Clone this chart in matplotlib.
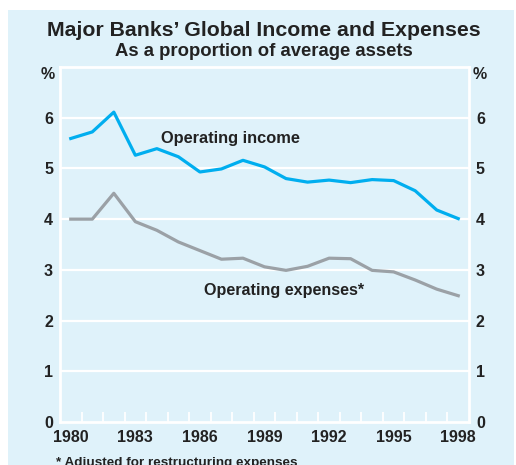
import matplotlib.pyplot as plt
import matplotlib.patches as patches
import numpy as np

plt.rcParams['font.family'] = ['Liberation Sans', 'DejaVu Sans']

years = np.arange(1980, 1999)
income = [5.59, 5.72, 6.11, 5.26, 5.39, 5.23, 4.93, 4.99, 5.16, 5.03,
          4.80, 4.73, 4.77, 4.72, 4.78, 4.76, 4.56, 4.18, 4.01]
expenses = [4.00, 4.00, 4.51, 3.95, 3.78, 3.55, 3.38, 3.21, 3.23, 3.06,
            2.99, 3.07, 3.23, 3.22, 2.99, 2.96, 2.80, 2.62, 2.49]
year_labels = [1980, 1983, 1986, 1989, 1992, 1995, 1998]
y_ticks = [0, 1, 2, 3, 4, 5, 6]

bg = '#dff2fa'
txt = '#222222'
blue = '#00aeef'
grey = '#9ba1a6'

fig = plt.figure(figsize=(5.16, 4.65), dpi=100)
fig.patch.set_facecolor('white')
fig.patches.append(patches.Rectangle((8/516, 0), 506/516, 1 - 10/465,
                                     transform=fig.transFigure,
                                     facecolor=bg, edgecolor='none', zorder=-5))

ax = fig.add_axes([60/516, 1 - 422/465, 409/516, 355/465])
ax.set_facecolor(bg)
ax.set_xlim(1979.5, 1998.5)
ax.set_ylim(0, 7)

for s in ax.spines.values():
    s.set_color('white')
    s.set_linewidth(2)

for v in y_ticks[1:]:
    ax.axhline(v, color='white', lw=1.6, zorder=1)

ax.plot(years, income, color=blue, lw=2.3, zorder=3)
ax.plot(years, expenses, color=grey, lw=2.3, zorder=3)

ax.set_xticks(year_labels)
ax.set_xticklabels([str(y) for y in year_labels], fontsize=11.5, fontweight='bold', color=txt)
ax.set_xticks(np.arange(1980.5, 1998, 1), minor=True)
ax.tick_params(axis='x', which='major', length=0, pad=6)
ax.tick_params(axis='x', which='minor', direction='in', length=7, width=1.3, color='white')

ax.set_yticks(y_ticks)
ax.set_yticklabels([str(v) for v in y_ticks], fontsize=11.5, fontweight='bold', color=txt)
ax.tick_params(axis='y', which='both', length=0, pad=5, labelright=True, right=False)

ax.text(-0.012, 6.85 / 7, '%', transform=ax.transAxes, ha='right', va='center',
        fontsize=11.5, fontweight='bold', color=txt)
ax.text(1.010, 6.85 / 7, '%', transform=ax.transAxes, ha='left', va='center',
        fontsize=11.5, fontweight='bold', color=txt)

ax.text(1987.4, 5.59, 'Operating income', ha='center', va='center',
        fontsize=11.8, fontweight='bold', color=txt, zorder=4)
ax.text(1989.9, 2.59, 'Operating expenses*', ha='center', va='center',
        fontsize=11.6, fontweight='bold', color=txt, zorder=4)

fig.text(264/516, 1 - 30/465, 'Major Banks\u2019 Global Income and Expenses', ha='center', va='center',
         fontsize=15.3, fontweight='bold', color=txt)
fig.text(264/516, 1 - 52/465, 'As a proportion of average assets', ha='center', va='center',
         fontsize=13.3, fontweight='bold', color=txt)
fig.text(56/516, 1 - 463/465, '* Adjusted for restructuring expenses', ha='left', va='center',
         fontsize=9.7, fontweight='bold', color=txt)

fig.savefig('out.png', dpi=100, facecolor=fig.get_facecolor())
